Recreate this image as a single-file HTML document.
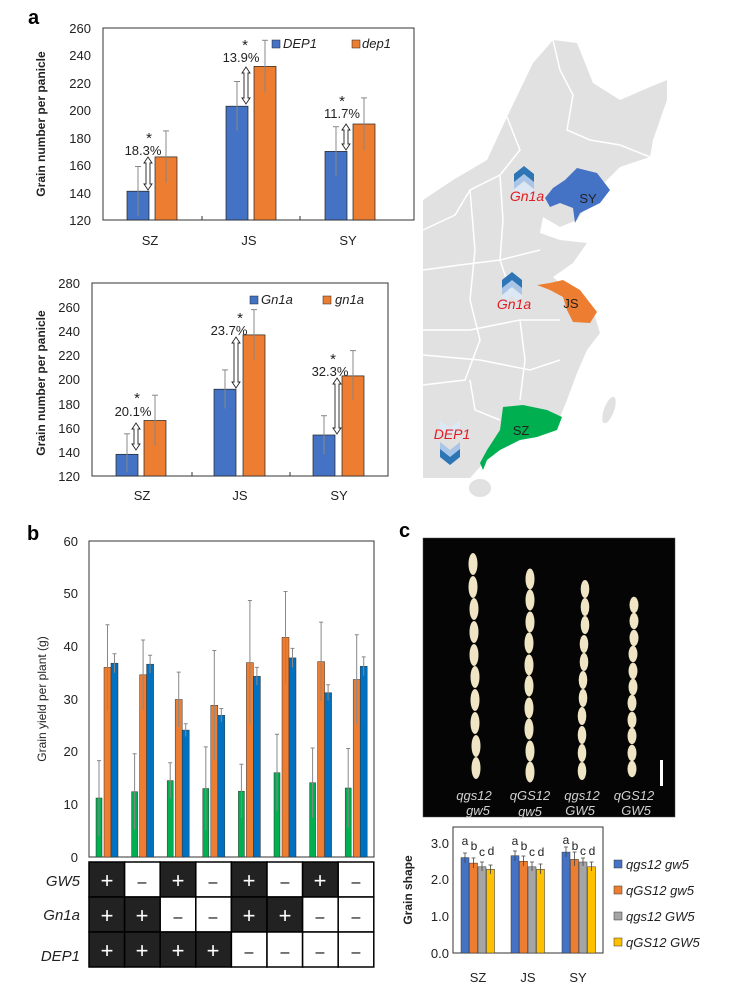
<!DOCTYPE html>
<html><head><meta charset="utf-8"><style>
html,body{margin:0;padding:0;background:#fff;}
svg{display:block;font-family:"Liberation Sans",sans-serif;}
.t{font-size:13px;fill:#222}
.i{font-style:italic}
.eb{stroke:#888;stroke-width:1}
</style></head><body>
<svg width="741" height="991" viewBox="0 0 741 991" xmlns="http://www.w3.org/2000/svg">
<!-- ================= Panel a chart 1 ================= -->
<text x="28" y="24" font-size="20" font-weight="bold">a</text>
<rect x="103" y="28" width="311" height="192" fill="none" stroke="#333" stroke-width="1"/>
<g class="t" text-anchor="end">
<text x="91" y="33">260</text><text x="91" y="60">240</text><text x="91" y="88">220</text><text x="91" y="115">200</text><text x="91" y="143">180</text><text x="91" y="170">160</text><text x="91" y="198">140</text><text x="91" y="225">120</text>
</g>
<text transform="translate(45,124) rotate(-90)" text-anchor="middle" font-size="12" font-weight="bold" fill="#222">Grain number per panicle</text>
<g stroke="#333"><line x1="202" y1="220" x2="202" y2="216"/><line x1="300" y1="220" x2="300" y2="216"/></g>
<g fill="#4472c4" stroke="#222" stroke-width="0.7">
<rect x="127" y="191.2" width="22" height="28.8"/><rect x="226" y="106.2" width="22" height="113.8"/><rect x="325" y="151.4" width="22" height="68.6"/></g>
<g fill="#ed7d31" stroke="#222" stroke-width="0.7">
<rect x="155" y="156.9" width="22" height="63.1"/><rect x="254" y="66.4" width="22" height="153.6"/><rect x="353" y="124" width="22" height="96"/></g>
<g class="eb">
<line x1="138" y1="215.9" x2="138" y2="166.5"/><line x1="135" y1="166.5" x2="141" y2="166.5"/>
<line x1="166" y1="183" x2="166" y2="130.9"/><line x1="163" y1="130.9" x2="169" y2="130.9"/>
<line x1="237" y1="130.9" x2="237" y2="81.5"/><line x1="234" y1="81.5" x2="240" y2="81.5"/>
<line x1="265" y1="92.5" x2="265" y2="40.3"/><line x1="262" y1="40.3" x2="268" y2="40.3"/>
<line x1="336" y1="176.1" x2="336" y2="126.7"/><line x1="333" y1="126.7" x2="339" y2="126.7"/>
<line x1="364" y1="150.1" x2="364" y2="97.9"/><line x1="361" y1="97.9" x2="367" y2="97.9"/>
</g>
<g class="t" text-anchor="middle"><text x="150" y="245">SZ</text><text x="249" y="245">JS</text><text x="348" y="245">SY</text></g>
<rect x="272" y="40" width="8" height="8" fill="#4472c4" stroke="#222" stroke-width="0.5"/>
<text x="283" y="48" class="t i">DEP1</text>
<rect x="352" y="40" width="8" height="8" fill="#ed7d31" stroke="#222" stroke-width="0.5"/>
<text x="362" y="48" class="t i">dep1</text>
<g class="t" text-anchor="middle">
<text x="149" y="143" font-size="15">*</text><text x="143" y="155" font-size="13">18.3%</text>
<text x="245" y="50" font-size="15">*</text><text x="241" y="62" font-size="13">13.9%</text>
<text x="342" y="106" font-size="15">*</text><text x="342" y="118" font-size="13">11.7%</text>
</g>
<g fill="#fff" stroke="#222" stroke-width="0.9">
<path d="M148,157 L152,163 L150,163 L150,184 L152,184 L148,190 L144,184 L146,184 L146,163 L144,163 Z"/>
<path d="M246,67 L250,73 L248,73 L248,98 L250,98 L246,104 L242,98 L244,98 L244,73 L242,73 Z"/>
<path d="M346,124 L350,130 L348,130 L348,144 L350,144 L346,150 L342,144 L344,144 L344,130 L342,130 Z"/>
</g>

<!-- ================= Panel a chart 2 ================= -->
<rect x="92" y="283" width="296" height="193" fill="none" stroke="#333" stroke-width="1"/>
<g class="t" text-anchor="end">
<text x="80" y="288">280</text><text x="80" y="312">260</text><text x="80" y="336">240</text><text x="80" y="360">220</text><text x="80" y="384">200</text><text x="80" y="409">180</text><text x="80" y="433">160</text><text x="80" y="457">140</text><text x="80" y="481">120</text>
</g>
<text transform="translate(45,383) rotate(-90)" text-anchor="middle" font-size="12" font-weight="bold" fill="#222">Grain number per panicle</text>
<g stroke="#333"><line x1="192" y1="476" x2="192" y2="472"/><line x1="290" y1="476" x2="290" y2="472"/></g>
<g fill="#4472c4" stroke="#222" stroke-width="0.7">
<rect x="116" y="454.3" width="22" height="21.7"/><rect x="214" y="389.2" width="22" height="86.8"/><rect x="313" y="435" width="22" height="41"/></g>
<g fill="#ed7d31" stroke="#222" stroke-width="0.7">
<rect x="144" y="420.5" width="22" height="55.5"/><rect x="243" y="334.9" width="22" height="141.1"/><rect x="342" y="375.9" width="22" height="100.1"/></g>
<g class="eb">
<line x1="127" y1="472.4" x2="127" y2="433.8"/><line x1="124" y1="433.8" x2="130" y2="433.8"/>
<line x1="155" y1="445.9" x2="155" y2="395.2"/><line x1="152" y1="395.2" x2="158" y2="395.2"/>
<line x1="225" y1="408.5" x2="225" y2="369.9"/><line x1="222" y1="369.9" x2="228" y2="369.9"/>
<line x1="254" y1="360.2" x2="254" y2="309.6"/><line x1="251" y1="309.6" x2="257" y2="309.6"/>
<line x1="324" y1="454.3" x2="324" y2="415.7"/><line x1="321" y1="415.7" x2="327" y2="415.7"/>
<line x1="353" y1="400" x2="353" y2="350.6"/><line x1="350" y1="350.6" x2="356" y2="350.6"/>
</g>
<g class="t" text-anchor="middle"><text x="142" y="500">SZ</text><text x="240" y="500">JS</text><text x="339" y="500">SY</text></g>
<rect x="250" y="296" width="8" height="8" fill="#4472c4" stroke="#222" stroke-width="0.5"/>
<text x="261" y="304" class="t i">Gn1a</text>
<rect x="323" y="296" width="8" height="8" fill="#ed7d31" stroke="#222" stroke-width="0.5"/>
<text x="335" y="304" class="t i">gn1a</text>
<g class="t" text-anchor="middle">
<text x="137" y="403" font-size="15">*</text><text x="133" y="416" font-size="13">20.1%</text>
<text x="240" y="323" font-size="15">*</text><text x="229" y="335" font-size="13">23.7%</text>
<text x="333" y="364" font-size="15">*</text><text x="330" y="376" font-size="13">32.3%</text>
</g>
<g fill="#fff" stroke="#222" stroke-width="0.9">
<path d="M136,423 L140,429 L138,429 L138,444 L140,444 L136,450 L132,444 L134,444 L134,429 L132,429 Z"/>
<path d="M236,337 L240,343 L238,343 L238,382 L240,382 L236,388 L232,382 L234,382 L234,343 L232,343 Z"/>
<path d="M337,378 L341,384 L339,384 L339,428 L341,428 L337,434 L333,428 L335,428 L335,384 L333,384 Z"/>
</g>

<!-- ================= Map ================= -->
<path d="M533,63 L553,40 L577,43 L593,83 L620,100 L650,87 L667,80 L667,100 L653,140 L650,157 L620,167 L600,187 L577,220 L560,227 L543,217 L540,233 L560,240 L587,243 L573,263 L553,277 L567,290 L593,310 L600,333 L587,350 L577,373 L567,400 L560,417 L530,430 L493,447 L480,467 L470,478 L423,478 L423,200 L453,180 L487,160 L507,117 Z" fill="#e1e1e1"/>
<ellipse cx="480" cy="488" rx="11" ry="9" fill="#e1e1e1"/>
<ellipse cx="609" cy="410" rx="5" ry="14" fill="#e1e1e1" transform="rotate(20 609 410)"/>
<g fill="none" stroke="#fff" stroke-width="1.5">
<path d="M553,40 L560,70 L573,95 L567,130 L590,140 L620,145 L650,157"/>
<path d="M507,117 L520,150 L500,175 L470,190 L455,215 L423,230"/>
<path d="M500,175 L503,220 L500,260 L510,290"/>
<path d="M423,270 L460,265 L500,260 L540,250"/>
<path d="M470,190 L475,250 L470,300 L480,340 L465,380 L423,385"/>
<path d="M423,330 L470,330 L520,320 L560,320"/>
<path d="M423,355 L480,360 L530,370 L560,360"/>
<path d="M520,320 L525,360 L520,400"/>
<path d="M470,380 L475,410 L500,420"/>
</g>
<path d="M565,180 L577,168 L597,173 L610,190 L600,203 L580,213 L575,223 L573,208 L560,203 L550,207 L545,198 L553,188 Z" fill="#4472c4"/>
<text x="588" y="203" class="t" text-anchor="middle" font-size="14">SY</text>
<path d="M537,285 L550,283 L563,280 L580,290 L597,312 L590,323 L573,322 L567,310 L563,297 L550,290 Z" fill="#ed7d31"/>
<text x="571" y="308" class="t" text-anchor="middle" font-size="14">JS</text>
<path d="M503,407 L523,405 L547,410 L562,417 L557,430 L537,437 L520,440 L500,450 L487,460 L483,470 L480,463 L487,450 L500,430 Z" fill="#00b050"/>
<text x="521" y="435" class="t" text-anchor="middle" font-size="14">SZ</text>
<!-- chevrons -->
<g>
<path d="M514,190 L524,182 L534,190 L534,198 L524,190 L514,198 Z" fill="#dce8f5"/>
<path d="M514,181 L524,173 L534,181 L534,189 L524,181 L514,189 Z" fill="#a9c6e8"/>
<path d="M514,174 L524,166 L534,174 L534,182 L524,174 L514,182 Z" fill="#2e75b6"/>
<path d="M502,296 L512,288 L522,296 L522,304 L512,296 L502,304 Z" fill="#dce8f5"/>
<path d="M502,287 L512,279 L522,287 L522,295 L512,287 L502,295 Z" fill="#a9c6e8"/>
<path d="M502,280 L512,272 L522,280 L522,288 L512,280 L502,288 Z" fill="#2e75b6"/>
<path d="M440,420 L450,428 L460,420 L460,428 L450,436 L440,428 Z" fill="#dce8f5"/>
<path d="M440,442 L450,450 L460,442 L460,450 L450,458 L440,450 Z" fill="#a9c6e8"/>
<path d="M440,449 L450,457 L460,449 L460,457 L450,465 L440,457 Z" fill="#2e75b6"/>
</g>
<g fill="#e31b23" font-style="italic" font-size="14" text-anchor="middle">
<text x="527" y="201">Gn1a</text><text x="514" y="309">Gn1a</text><text x="452" y="439">DEP1</text>
</g>

<!-- ================= Panel b ================= -->
<text x="27" y="540" font-size="20" font-weight="bold">b</text>
<rect x="89" y="541" width="285" height="316" fill="none" stroke="#333" stroke-width="1"/>
<g class="t" text-anchor="end">
<text x="78" y="546">60</text><text x="78" y="598">50</text><text x="78" y="651">40</text><text x="78" y="704">30</text><text x="78" y="756">20</text><text x="78" y="809">10</text><text x="78" y="862">0</text>
</g>
<text transform="translate(46,699) rotate(-90)" text-anchor="middle" font-size="12" fill="#222">Grain yield per plant (g)</text>
<g fill="#00b050" stroke="#333" stroke-width="0.5">
<rect x="96" y="798" width="6" height="59"/><rect x="131.6" y="791.7" width="6" height="65.3"/><rect x="167.2" y="780.6" width="6" height="76.4"/><rect x="202.8" y="788.5" width="6" height="68.5"/><rect x="238.4" y="791.2" width="6" height="65.8"/><rect x="274" y="772.7" width="6" height="84.3"/><rect x="309.6" y="782.7" width="6" height="74.3"/><rect x="345.2" y="788" width="6" height="69"/>
</g>
<g fill="#ed7d31" stroke="#333" stroke-width="0.5">
<rect x="104" y="667.4" width="7" height="189.6"/><rect x="139.6" y="674.8" width="7" height="182.2"/><rect x="175.2" y="699.5" width="7" height="157.5"/><rect x="210.8" y="705.3" width="7" height="151.7"/><rect x="246.4" y="662.6" width="7" height="194.4"/><rect x="282" y="637.4" width="7" height="219.6"/><rect x="317.6" y="661.6" width="7" height="195.4"/><rect x="353.2" y="679.5" width="7" height="177.5"/>
</g>
<g fill="#0070c0" stroke="#333" stroke-width="0.5">
<rect x="111" y="663.2" width="7" height="193.8"/><rect x="146.6" y="664.2" width="7" height="192.8"/><rect x="182.2" y="730.1" width="7" height="126.9"/><rect x="217.8" y="715.3" width="7" height="141.7"/><rect x="253.4" y="676.3" width="7" height="180.7"/><rect x="289" y="657.9" width="7" height="199.1"/><rect x="324.6" y="692.7" width="7" height="164.3"/><rect x="360.2" y="666.3" width="7" height="190.7"/>
</g>
<g class="eb" stroke-width="0.8">
<path d="M99,835.4V760.6M97,760.6h4M134.6,829.6V753.8M132.6,753.8h4M170.2,798.5V762.7M168.2,762.7h4M205.8,830.1V746.9M203.8,746.9h4M241.4,818V764.3M239.4,764.3h4M277,811.2V734.3M275,734.3h4M312.6,817.5V748M310.6,748h4M348.2,827.5V748.5M346.2,748.5h4"/>
<path d="M107.5,710.1V624.7M105.5,624.7h4M143.1,709.5V640M141.1,640h4M178.7,726.9V672.1M176.7,672.1h4M214.3,760.1V650.5M212.3,650.5h4M249.9,724.8V600.5M247.9,600.5h4M285.5,683.2V591.5M283.5,591.5h4M321.1,701.1V622.1M319.1,622.1h4M356.7,724.3V634.7M354.7,634.7h4"/>
<path d="M114.5,672.7V653.7M112.5,653.7h4M150.1,673.1V655.3M148.1,655.3h4M185.7,736.5V723.7M183.7,723.7h4M221.3,722.1V708.5M219.3,708.5h4M256.9,685.2V667.4M254.9,667.4h4M292.5,667.4V648.4M290.5,648.4h4M328.1,700.6V684.8M326.1,684.8h4M363.7,675.7V656.9M361.7,656.9h4"/>
</g>
<!-- table -->
<g stroke="#000" stroke-width="1.5">
<rect x="89" y="862" width="35.6" height="35" fill="#222"/><rect x="124.6" y="862" width="35.6" height="35" fill="#fff"/><rect x="160.2" y="862" width="35.6" height="35" fill="#222"/><rect x="195.8" y="862" width="35.6" height="35" fill="#fff"/><rect x="231.4" y="862" width="35.6" height="35" fill="#222"/><rect x="267" y="862" width="35.6" height="35" fill="#fff"/><rect x="302.6" y="862" width="35.6" height="35" fill="#222"/><rect x="338.2" y="862" width="35.6" height="35" fill="#fff"/>
<rect x="89" y="897" width="35.6" height="35" fill="#222"/><rect x="124.6" y="897" width="35.6" height="35" fill="#222"/><rect x="160.2" y="897" width="35.6" height="35" fill="#fff"/><rect x="195.8" y="897" width="35.6" height="35" fill="#fff"/><rect x="231.4" y="897" width="35.6" height="35" fill="#222"/><rect x="267" y="897" width="35.6" height="35" fill="#222"/><rect x="302.6" y="897" width="35.6" height="35" fill="#fff"/><rect x="338.2" y="897" width="35.6" height="35" fill="#fff"/>
<rect x="89" y="932" width="35.6" height="35" fill="#222"/><rect x="124.6" y="932" width="35.6" height="35" fill="#222"/><rect x="160.2" y="932" width="35.6" height="35" fill="#222"/><rect x="195.8" y="932" width="35.6" height="35" fill="#222"/><rect x="231.4" y="932" width="35.6" height="35" fill="#fff"/><rect x="267" y="932" width="35.6" height="35" fill="#fff"/><rect x="302.6" y="932" width="35.6" height="35" fill="#fff"/><rect x="338.2" y="932" width="35.6" height="35" fill="#fff"/>
</g>
<g font-size="22" text-anchor="middle" fill="#fff">
<text x="107" y="888">+</text><text x="178" y="888">+</text><text x="249" y="888">+</text><text x="320" y="888">+</text>
<text x="107" y="923">+</text><text x="142" y="923">+</text><text x="249" y="923">+</text><text x="285" y="923">+</text>
<text x="107" y="958">+</text><text x="142" y="958">+</text><text x="178" y="958">+</text><text x="213" y="958">+</text>
</g>
<g font-size="16" text-anchor="middle" fill="#000">
<text x="142" y="887">–</text><text x="213" y="887">–</text><text x="285" y="887">–</text><text x="356" y="887">–</text>
<text x="178" y="922">–</text><text x="213" y="922">–</text><text x="320" y="922">–</text><text x="356" y="922">–</text>
<text x="249" y="957">–</text><text x="285" y="957">–</text><text x="320" y="957">–</text><text x="356" y="957">–</text>
</g>
<g font-size="15" font-style="italic" text-anchor="end" fill="#222">
<text x="80" y="886">GW5</text><text x="80" y="920">Gn1a</text><text x="80" y="961">DEP1</text>
</g>

<!-- ================= Panel c ================= -->
<text x="399" y="537" font-size="20" font-weight="bold">c</text>
<rect x="423" y="538" width="252" height="279" fill="#050505" stroke="#555" stroke-width="0.5"/>
<g fill="#efe4c4">
<ellipse cx="473" cy="564" rx="4.5" ry="11"/><ellipse cx="473" cy="587" rx="4.5" ry="11"/><ellipse cx="474" cy="609" rx="4.5" ry="11"/><ellipse cx="474" cy="632" rx="4.5" ry="11"/><ellipse cx="474" cy="655" rx="4.5" ry="11"/><ellipse cx="475" cy="677" rx="4.5" ry="11"/><ellipse cx="475" cy="700" rx="4.5" ry="11"/><ellipse cx="475" cy="723" rx="4.5" ry="11"/><ellipse cx="476" cy="746" rx="4.5" ry="11"/><ellipse cx="476" cy="768" rx="4.5" ry="11"/>
<ellipse cx="530" cy="579" rx="4.5" ry="10.5"/><ellipse cx="530" cy="600" rx="4.5" ry="10.5"/><ellipse cx="530" cy="622" rx="4.5" ry="10.5"/><ellipse cx="529" cy="643" rx="4.5" ry="10.5"/><ellipse cx="529" cy="665" rx="4.5" ry="10.5"/><ellipse cx="529" cy="686" rx="4.5" ry="10.5"/><ellipse cx="529" cy="708" rx="4.5" ry="10.5"/><ellipse cx="529" cy="729" rx="4.5" ry="10.5"/><ellipse cx="530" cy="751" rx="4.5" ry="10.5"/><ellipse cx="530" cy="772" rx="4.5" ry="10.5"/>
<ellipse cx="585" cy="589" rx="4.3" ry="9"/><ellipse cx="585" cy="607" rx="4.3" ry="9"/><ellipse cx="585" cy="625" rx="4.3" ry="9"/><ellipse cx="584" cy="644" rx="4.3" ry="9"/><ellipse cx="584" cy="662" rx="4.3" ry="9"/><ellipse cx="583" cy="680" rx="4.3" ry="9"/><ellipse cx="583" cy="698" rx="4.3" ry="9"/><ellipse cx="582" cy="716" rx="4.3" ry="9"/><ellipse cx="582" cy="735" rx="4.3" ry="9"/><ellipse cx="582" cy="753" rx="4.3" ry="9"/><ellipse cx="582" cy="771" rx="4.3" ry="9"/>
<ellipse cx="634" cy="605" rx="4.5" ry="8.2"/><ellipse cx="634" cy="621" rx="4.5" ry="8.2"/><ellipse cx="634" cy="638" rx="4.5" ry="8.2"/><ellipse cx="633" cy="654" rx="4.5" ry="8.2"/><ellipse cx="633" cy="671" rx="4.5" ry="8.2"/><ellipse cx="633" cy="687" rx="4.5" ry="8.2"/><ellipse cx="632" cy="703" rx="4.5" ry="8.2"/><ellipse cx="632" cy="720" rx="4.5" ry="8.2"/><ellipse cx="632" cy="736" rx="4.5" ry="8.2"/><ellipse cx="632" cy="753" rx="4.5" ry="8.2"/><ellipse cx="632" cy="769" rx="4.5" ry="8.2"/>
</g>
<rect x="660" y="760" width="3" height="26" fill="#fff"/>
<g fill="#d0d0d0" font-size="13" font-style="italic" text-anchor="middle">
<text x="474" y="800">qgs12</text><text x="478" y="815">gw5</text>
<text x="530" y="800">qGS12</text><text x="530" y="816">gw5</text>
<text x="582" y="800">qgs12</text><text x="580" y="815">GW5</text>
<text x="634" y="800">qGS12</text><text x="636" y="815">GW5</text>
</g>
<rect x="453" y="827" width="150" height="126" fill="none" stroke="#333" stroke-width="1"/>
<g class="t" text-anchor="end">
<text x="449" y="848">3.0</text><text x="449" y="884">2.0</text><text x="449" y="921">1.0</text><text x="449" y="958">0.0</text>
</g>
<text transform="translate(412,890) rotate(-90)" text-anchor="middle" font-size="12" font-weight="bold" fill="#222">Grain shape</text>
<g stroke="#333" stroke-width="0.5">
<rect x="461" y="857.6" width="8" height="95.4" fill="#4472c4"/><rect x="469.5" y="863.1" width="8" height="89.9" fill="#ed7d31"/><rect x="478" y="866.8" width="8" height="86.2" fill="#a5a5a5"/><rect x="486.5" y="869.3" width="8" height="83.7" fill="#ffc000"/>
<rect x="511" y="855.7" width="8" height="97.3" fill="#4472c4"/><rect x="519.5" y="861.3" width="8" height="91.7" fill="#ed7d31"/><rect x="528" y="866.8" width="8" height="86.2" fill="#a5a5a5"/><rect x="536.5" y="869.3" width="8" height="83.7" fill="#ffc000"/>
<rect x="562" y="852.1" width="8" height="100.9" fill="#4472c4"/><rect x="570.5" y="859.4" width="8" height="93.6" fill="#ed7d31"/><rect x="579" y="862" width="8" height="91" fill="#a5a5a5"/><rect x="587.5" y="866.8" width="8" height="86.2" fill="#ffc000"/>
</g>
<g stroke="#444" stroke-width="0.8">
<path d="M465,853v10M463,853h4M473.5,858v10M471.5,858h4M482,862v9M480,862h4M490.5,865v9M488.5,865h4"/>
<path d="M515,851v10M513,851h4M523.5,856v10M521.5,856h4M532,862v9M530,862h4M540.5,864v10M538.5,864h4"/>
<path d="M566,847v10M564,847h4M574.5,852v14M572.5,852h4M583,858v8M581,858h4M591.5,862v9M589.5,862h4"/>
</g>
<g font-size="12" fill="#222" text-anchor="middle">
<text x="465" y="845">a</text><text x="474" y="850">b</text><text x="482" y="856">c</text><text x="491" y="855">d</text>
<text x="515" y="845">a</text><text x="524" y="850">b</text><text x="532" y="856">c</text><text x="541" y="856">d</text>
<text x="566" y="844">a</text><text x="575" y="850">b</text><text x="583" y="855">c</text><text x="592" y="855">d</text>
</g>
<g class="t" text-anchor="middle"><text x="478" y="982">SZ</text><text x="528" y="982">JS</text><text x="578" y="982">SY</text></g>
<g stroke="#333" stroke-width="0.5">
<rect x="614" y="860" width="8" height="8" fill="#4472c4"/><rect x="614" y="886" width="8" height="8" fill="#ed7d31"/><rect x="614" y="912" width="8" height="8" fill="#a5a5a5"/><rect x="614" y="938" width="8" height="8" fill="#ffc000"/>
</g>
<g class="t i"><text x="626" y="869">qgs12 gw5</text><text x="626" y="895">qGS12 gw5</text><text x="626" y="921">qgs12 GW5</text><text x="626" y="947">qGS12 GW5</text></g>
</svg>
</body></html>
